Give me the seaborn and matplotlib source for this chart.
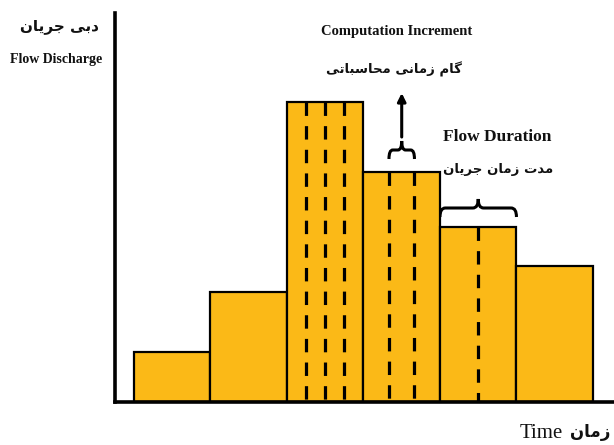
import numpy as np
import pandas as pd
import matplotlib
matplotlib.use("Agg")
import matplotlib.pyplot as plt
from matplotlib.path import Path
from matplotlib.patches import PathPatch
import seaborn as sns

# hydrograph blocks (discharge per time step)
steps = ["t1", "t2", "t3", "t4", "t5", "t6"]
discharge = [50, 110, 300, 230, 175, 136]
increments = [1, 1, 4, 3, 2, 1]   # computation increments inside each step

# labels (Persian written in presentation forms, visual order)
ylabel_fa = "\ufee5\ufe8e\ufef3\ufeae\ufe9f \ufef0\ufe91\ufea9"
ylabel_en = "Flow Discharge"
xlabel_fa = "\ufee5\ufe8e\ufee3\ufeaf"
xlabel_en = "Time"
incr_en = "Computation Increment"
incr_fa = "\ufef0\ufe97\ufe8e\ufe92\ufeb3\ufe8e\ufea4\ufee3 \ufef0\ufee7\ufe8e\ufee3\ufeaf \ufee1\ufe8e\ufb94"
dur_en = "Flow Duration"
dur_fa = "\ufee5\ufe8e\ufef3\ufeae\ufe9f \ufee5\ufe8e\ufee3\ufeaf \ufe95\ufeaa\ufee3"

incr_step = 3   # step whose middle increment is marked
dur_step = 4    # step marked as flow duration

BAR = "#FBB917"


def brace(ax, x0, x1, y, d, r):
    # curly brace, ends at y, bar at y+d, tip at y+2d
    xc = (x0 + x1) / 2
    ym = y + d
    verts = [(x0, y), (x0, ym), (x0 + r, ym),
             (xc - r, ym), (xc, ym), (xc, ym + d),
             (xc, ym), (xc + r, ym),
             (x1 - r, ym), (x1, ym), (x1, y)]
    codes = [Path.MOVETO, Path.CURVE3, Path.CURVE3,
             Path.LINETO, Path.CURVE3, Path.CURVE3,
             Path.CURVE3, Path.CURVE3,
             Path.LINETO, Path.CURVE3, Path.CURVE3]
    ax.add_patch(PathPatch(Path(verts, codes), fill=False, lw=2.2,
                           color="black", capstyle="butt"))


sns.set_style("white")
df = pd.DataFrame({"step": steps, "q": discharge})

fig = plt.figure(figsize=(6.14, 4.45), dpi=100)
ax = fig.add_axes([115 / 614, 43 / 445, 499 / 614, 389 / 445])
sns.barplot(data=df, x="step", y="q", color=BAR, width=1.0, saturation=1,
            edgecolor="black", linewidth=1.6, ax=ax, zorder=2)

# dashed computation increments
for i, (q, n) in enumerate(zip(discharge, increments)):
    for k in range(1, n):
        xk = i - 0.5 + k / n
        ax.plot([xk, xk], [q, 0], color="black", lw=2.3,
                linestyle=(0, (4.2, 3.2)), zorder=3)

# small brace + arrow for computation increment
n = increments[incr_step]
x0 = incr_step - 0.5 + 1 / n
x1 = incr_step - 0.5 + 2 / n
yb = discharge[incr_step] + 13
brace(ax, x0, x1, yb, 9, 0.05)
ax.annotate("", xy=(incr_step, yb + 66), xytext=(incr_step, yb + 22),
            arrowprops=dict(arrowstyle="-|>", lw=2.2, color="black",
                            mutation_scale=12, shrinkA=0, shrinkB=0))

# brace for flow duration
yb2 = discharge[dur_step] + 10
brace(ax, dur_step - 0.5, dur_step + 0.5, yb2, 9, 0.07)

ax.set_xlim(-0.748, 5.775)
ax.set_ylim(0, 389)
ax.set_xticks([])
ax.set_yticks([])
ax.set_xlabel("")
ax.set_ylabel("")
sns.despine(ax=ax)
for s in ["left", "bottom"]:
    ax.spines[s].set_linewidth(2.6)
    ax.spines[s].set_color("black")
ax.patch.set_alpha(0)

fa = dict(family=["DejaVu Sans"], weight="bold", color="#111111",
          ha="center", va="center")
en = dict(family=["Liberation Serif"], weight="bold", color="#111111",
          ha="center", va="center")

W, H = 614, 445
fig.text(60 / W, 1 - 27 / H, ylabel_fa, fontsize=11, **fa)
fig.text(56 / W, 1 - 60 / H, ylabel_en, fontsize=10, **en)
fig.text(397 / W, 1 - 31 / H, incr_en, fontsize=10.5, **en)
fig.text(394 / W, 1 - 69 / H, incr_fa, fontsize=9.5, **fa)
fig.text(497 / W, 1 - 137 / H, dur_en, fontsize=12.5, **en)
fig.text(498 / W, 1 - 170 / H, dur_fa, fontsize=9.5, **fa)
fig.text(541 / W, 1 - 433 / H, xlabel_en, fontsize=15,
         family=["Liberation Serif"], color="#111111", ha="center", va="center")
fig.text(590 / W, 1 - 432 / H, xlabel_fa, fontsize=12, **fa)

fig.savefig("out.png", dpi=100, facecolor="white")
